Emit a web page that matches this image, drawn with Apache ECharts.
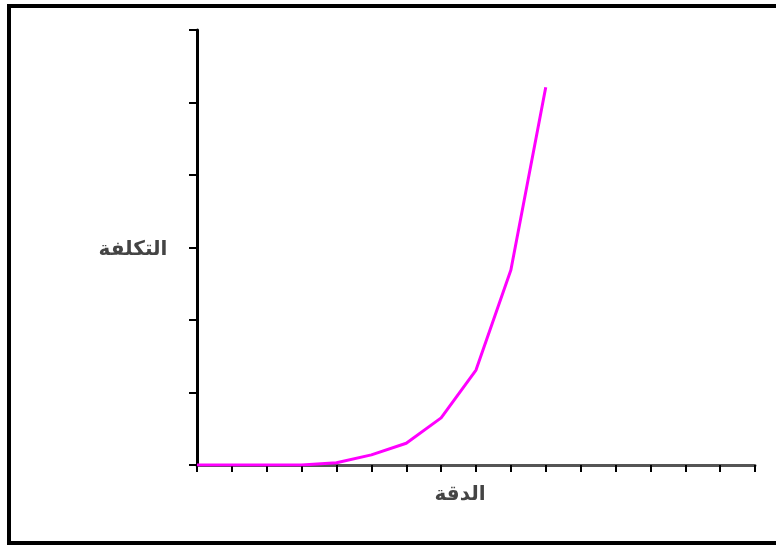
<!DOCTYPE html>
<html><head><meta charset="utf-8">
<script src="https://cdn.jsdelivr.net/npm/echarts@6/dist/echarts.min.js"></script>
<style>html,body{margin:0;padding:0;background:#fff}#c{width:776px;height:545px}</style>
</head><body><div id="c"></div>
<script>
const precision = [0,1,2,3,4,5,6,7,8,9,10];
const cost = [0,0,0,0,0.03,0.14,0.30,0.65,1.31,2.69,5.21];
const xAxisName = 'الدقة';
const yAxisName = 'التكلفة';

const chart = echarts.init(document.getElementById('c'));
chart.setOption({
  animation:false,
  backgroundColor:'#fff',
  grid:{left:197, top:30, right:21, bottom:80},
  xAxis:{type:'value', min:0, max:16, interval:1,
    axisLine:{lineStyle:{color:'#555', width:3}},
    axisTick:{length:7, lineStyle:{color:'#000', width:2}},
    axisLabel:{show:false}, splitLine:{show:false}},
  yAxis:{type:'value', min:0, max:6, interval:1,
    axisLine:{lineStyle:{color:'#000', width:3}},
    axisTick:{length:8, lineStyle:{color:'#000', width:2}},
    axisLabel:{show:false}, splitLine:{show:false}},
  graphic:[
    {type:'rect', shape:{x:9, y:6, width:780, height:537}, style:{fill:null, stroke:'#000', lineWidth:4}},
    {type:'text', x:460, y:495, style:{text:xAxisName, font:'bold 20px "DejaVu Sans"', fill:'#444', align:'center', verticalAlign:'middle'}},
    {type:'text', x:133, y:250, style:{text:yAxisName, font:'bold 20px "DejaVu Sans"', fill:'#444', align:'center', verticalAlign:'middle'}}
  ],
  series:[{type:'line', data:precision.map((x,i)=>[x,cost[i]]), showSymbol:false,
    lineStyle:{color:'#ff00ff', width:3}, z:5}]
});
</script></body></html>
